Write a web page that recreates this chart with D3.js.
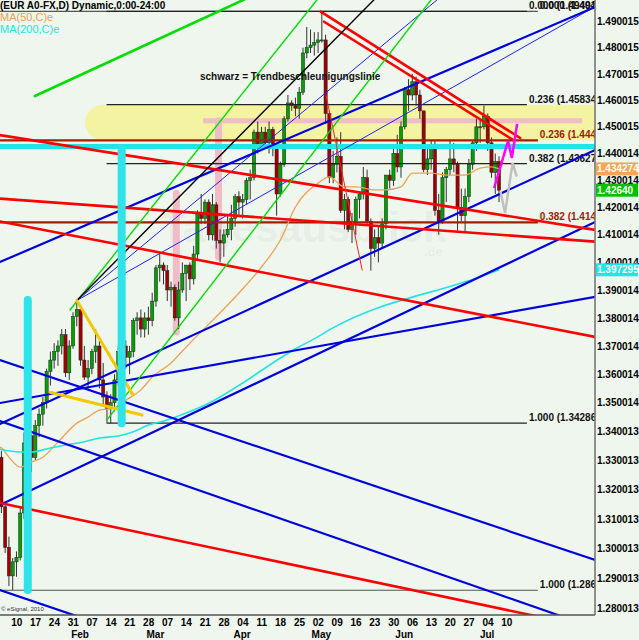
<!DOCTYPE html>
<html>
<head>
<meta charset="utf-8">
<script src="https://cdn.jsdelivr.net/npm/d3@7"></script>
<style>
  body { margin: 0; background: #eef6ee; }
  svg text { font-family: "Liberation Sans", Arial, sans-serif; }
</style>
</head>
<body>
<svg id="chart"></svg>
<script>
// daily bars [open, high, low, close], first bar = 03 Jan
const ohlc = [
  [1.3362,1.3430,1.3302,1.3358],[1.3358,1.3434,1.3290,1.3311],[1.3311,1.3333,1.3120,1.3141],[1.3141,1.3160,1.2985,1.3004],[1.3004,1.3040,1.2874,1.2908],
  [1.2908,1.2968,1.2861,1.2955],[1.2955,1.2990,1.2905,1.2970],[1.2970,1.3136,1.2960,1.3120],[1.3120,1.3397,1.3100,1.3360],[1.3360,1.3440,1.3300,1.3385],
  [1.3385,1.3390,1.3260,1.3310],[1.3310,1.3440,1.3300,1.3420],[1.3420,1.3480,1.3380,1.3460],[1.3460,1.3520,1.3420,1.3500],[1.3500,1.3620,1.3480,1.3610],
  [1.3610,1.3680,1.3560,1.3650],[1.3650,1.3710,1.3620,1.3680],[1.3680,1.3720,1.3630,1.3700],[1.3700,1.3760,1.3670,1.3740],[1.3740,1.3760,1.3590,1.3605],
  [1.3605,1.3720,1.3580,1.3700],[1.3700,1.3820,1.3690,1.3805],[1.3805,1.3862,1.3770,1.3830],[1.3830,1.3840,1.3630,1.3650],[1.3650,1.3700,1.3580,1.3590],
  [1.3590,1.3650,1.3550,1.3620],[1.3620,1.3690,1.3600,1.3680],[1.3680,1.3760,1.3640,1.3700],[1.3700,1.3720,1.3550,1.3580],[1.3580,1.3640,1.3490,1.3520],
  [1.3520,1.3540,1.3430,1.3480],[1.3480,1.3530,1.3429,1.3500],[1.3500,1.3600,1.3470,1.3580],[1.3580,1.3700,1.3560,1.3680],[1.3680,1.3710,1.3580,1.3700],
  [1.3700,1.3720,1.3620,1.3660],[1.3660,1.3700,1.3600,1.3680],[1.3680,1.3800,1.3660,1.3790],[1.3790,1.3820,1.3740,1.3800],[1.3800,1.3830,1.3730,1.3760],
  [1.3760,1.3820,1.3730,1.3800],[1.3800,1.3840,1.3740,1.3790],[1.3790,1.3890,1.3770,1.3860],[1.3860,1.3990,1.3840,1.3980],[1.3980,1.4030,1.3930,1.3990],
  [1.3990,1.4000,1.3920,1.3970],[1.3970,1.3990,1.3860,1.3900],[1.3900,1.3930,1.3840,1.3910],[1.3910,1.3920,1.3790,1.3800],[1.3800,1.3930,1.3760,1.3900],
  [1.3900,1.4000,1.3890,1.3960],[1.3960,1.3990,1.3860,1.3990],[1.3990,1.4000,1.3900,1.3940],[1.3940,1.4060,1.3920,1.4030],[1.4030,1.4190,1.4010,1.4180],
  [1.4180,1.4250,1.4140,1.4160],[1.4160,1.4230,1.4140,1.4220],[1.4220,1.4230,1.4080,1.4100],[1.4100,1.4250,1.4080,1.4210],[1.4210,1.4220,1.4050,1.4080],
  [1.4080,1.4120,1.4000,1.4070],[1.4070,1.4120,1.4020,1.4100],[1.4100,1.4170,1.4090,1.4120],[1.4120,1.4210,1.4080,1.4160],[1.4160,1.4250,1.4130,1.4240],
  [1.4240,1.4260,1.4170,1.4220],[1.4220,1.4250,1.4160,1.4230],[1.4230,1.4310,1.4210,1.4300],[1.4300,1.4340,1.4230,1.4310],[1.4310,1.4490,1.4300,1.4480],
  [1.4480,1.4520,1.4400,1.4420],[1.4420,1.4500,1.4410,1.4480],[1.4480,1.4500,1.4420,1.4440],[1.4440,1.4520,1.4400,1.4490],[1.4490,1.4500,1.4390,1.4430],
  [1.4430,1.4440,1.4170,1.4250],[1.4250,1.4370,1.4240,1.4360],[1.4360,1.4540,1.4350,1.4530],[1.4530,1.4620,1.4520,1.4590],[1.4590,1.4600,1.4560,1.4580],
  [1.4580,1.4610,1.4540,1.4570],[1.4570,1.4650,1.4530,1.4630],[1.4630,1.4800,1.4620,1.4780],[1.4780,1.4880,1.4760,1.4800],[1.4800,1.4870,1.4780,1.4810],
  [1.4810,1.4860,1.4770,1.4820],[1.4820,1.4860,1.4780,1.4830],[1.4830,1.4940,1.4820,1.4830],[1.4830,1.4850,1.4510,1.4550],[1.4550,1.4560,1.4290,1.4310],
  [1.4310,1.4410,1.4290,1.4360],[1.4360,1.4460,1.4330,1.4390],[1.4390,1.4480,1.4180,1.4190],[1.4190,1.4250,1.4120,1.4230],[1.4230,1.4240,1.4110,1.4120],
  [1.4120,1.4180,1.4070,1.4150],[1.4150,1.4240,1.4100,1.4230],[1.4230,1.4260,1.4160,1.4250],[1.4250,1.4350,1.4230,1.4310],[1.4310,1.4340,1.4140,1.4150],
  [1.4150,1.4160,1.3970,1.4050],[1.4050,1.4120,1.4020,1.4090],[1.4090,1.4130,1.4000,1.4070],[1.4070,1.4160,1.4050,1.4140],[1.4140,1.4320,1.4120,1.4320],
  [1.4320,1.4340,1.4270,1.4300],[1.4300,1.4420,1.4280,1.4400],[1.4400,1.4470,1.4330,1.4350],[1.4350,1.4520,1.4310,1.4500],[1.4500,1.4650,1.4490,1.4640],
  [1.4640,1.4680,1.4560,1.4620],[1.4620,1.4700,1.4600,1.4670],[1.4670,1.4690,1.4580,1.4620],[1.4620,1.4640,1.4530,1.4560],[1.4560,1.4560,1.4330,1.4340],
  [1.4340,1.4420,1.4320,1.4380],[1.4380,1.4450,1.4340,1.4420],[1.4420,1.4450,1.4170,1.4190],[1.4190,1.4250,1.4100,1.4150],[1.4150,1.4330,1.4140,1.4310],
  [1.4310,1.4350,1.4220,1.4340],[1.4340,1.4450,1.4320,1.4380],[1.4380,1.4440,1.4330,1.4360],[1.4360,1.4370,1.4110,1.4200],[1.4200,1.4270,1.4150,1.4170],
  [1.4170,1.4270,1.4110,1.4240],[1.4240,1.4380,1.4220,1.4360],[1.4360,1.4450,1.4340,1.4440],[1.4440,1.4530,1.4410,1.4500],[1.4500,1.4530,1.4440,1.4500],
  [1.4500,1.4580,1.4490,1.4540],[1.4540,1.4550,1.4410,1.4440],[1.4440,1.4460,1.4310,1.4330],[1.4330,1.4400,1.4250,1.4370],[1.4370,1.4390,1.4220,1.4264]
];

// moving averages (bar index, value)
const ma50Idx = [0,2,4,7,10,13,17,22,25,28,32,35,39,42,47,51,65,71,76,80,86,89,93,96,101,104,108,111,116,120,125,129,132,134];
const ma50Val = [1.3350,1.3343,1.3311,1.3277,1.3294,1.3311,1.3363,1.3429,1.3450,1.3474,1.3481,1.3509,1.3545,1.3590,1.3640,1.3696,1.3889,1.3983,1.4081,1.4202,1.4290,1.4313,1.4276,1.4276,1.4265,1.4265,1.4276,1.4327,1.4327,1.4320,1.4320,1.4346,1.4350,1.4343];
const ma200Idx = [0,7,10,15,19,24,28,33,37,41,46,51,55,81,86,89,129,134];
const ma200Val = [1.3343,1.3329,1.3329,1.3343,1.3353,1.3364,1.3377,1.3384,1.3399,1.3422,1.3440,1.3464,1.3486,1.3697,1.3733,1.3757,1.3948,1.3973];

// axis labels
const yTicks = [1.490015,1.480015,1.470015,1.460015,1.450015,1.440014,1.430014,1.420014,1.410014,1.400014,1.390014,1.380014,1.370014,1.360014,1.350014,1.340013,1.330013,1.320013,1.310013,1.300013,1.290013,1.280013];
const dayLabels = ['10','17','24','31','07','14','21','28','07','14','21','28','04','11','18','25','02','09','16','23','30','06','13','20','27','04','10'];
const dayIdx = [5,10,15,20,25,30,35,40,45,50,55,60,65,70,75,80,85,90,95,100,105,110,115,120,125,130,135];
const monthLabels = ['Feb','Mar','Apr','May','Jun','Jul'];
const monthIdx = [21,41,64,85,107,129];

// drawn tools: [barIndex1, price1, barIndex2, price2]
const blueThick = [
  [1.6,1.4001,159.5,1.4957],
  [1.6,1.3426,159.5,1.4413],
  [1.6,1.3147,159.5,1.4147],
  [1.6,1.3499,159.5,1.3875],
  [1.6,1.3650,159.5,1.2961],
  [1.6,1.3436,159.5,1.2735],
  [1.6,1.2861,28.2,1.2748]
];
const blueThin = [
  [22,1.3862,159.5,1.4959],
  [22,1.3862,117.5,1.4984]
];
const redThick = [
  [1.6,1.4469,159.5,1.4118],
  [1.6,1.4149,159.5,1.3732],
  [1.6,1.4233,159.5,1.4075],
  [1.6,1.3154,159.5,1.2733],
  [86.7,1.4939,139.6,1.4458],
  [87.6,1.4900,137.7,1.4451]
];
const redThin = [
  [88.1,1.4620,97.7,1.3972]
];
const greenThick = [
  [10.9,1.4616,67.9,1.4996]
];
const greenThin = [
  [20.2,1.3828,87.8,1.5023],
  [30,1.3440,118,1.5023]
];
const blackLines = [
  [22,1.3862,103.4,1.5023]
];
const yellowLines = [
  [22,1.3862,36.9,1.3527],
  [14.9,1.3537,39.3,1.3457]
];
const magentaPath = [[132.7,1.4272],[136.4,1.4447],[137.4,1.4383],[138.8,1.4511]];
const grayPath = [[134.4,1.4258],[135.6,1.4180],[137.6,1.4365],[138.7,1.4314]];

// zones and markers
const yellowZone = [24.2, 170, 1.44492, 1.458343];
const cyanLevel = [-2, 170, 1.4426];
const pinkLevel = [55.5, 156, 1.4523];
const pinkBars = [[59.6,1.4523,1.4019],[48.4,1.4253,1.3750]];
const cyanBars = [[9,1.3864,1.2861],[33.9,1.4421,1.342863]];

// fibonacci retracements: [startIdx, endIdx, low, high]
const fib1 = [-2, 144.3, 1.286013, 1.494014];
const fib2 = [29.9, 141.4, 1.342863, 1.494014];
const fibLevels = [0, 0.236, 0.382, 1];

// last values on the price scale
const lastMa50 = 1.434274, lastPrice = 1.42640, lastMa200 = 1.397295;

var svg = d3.select('#chart').attr('width', 639).attr('height', 640);

var plotW = 595, plotH = 615;

var x = d3.scaleLinear().domain([0, 160]).range([-6.15, -6.15 + 3.77 * 160]);
var y = d3.scaleLog().domain([1.280013, 1.490015]).range([608.3, 21.7]);

svg.append('rect').attr('width', 639).attr('height', 640).attr('fill', '#eef6ee');

svg.append('defs').append('clipPath').attr('id', 'plotclip')
  .append('rect').attr('x', 0).attr('y', 0).attr('width', plotW).attr('height', plotH);

var canvas = svg.append('g').attr('clip-path', 'url(#plotclip)');

//watermark
canvas.append('text').attr('x', 160).attr('y', 242)
  .attr('font-size', 42).attr('font-weight', 'bold').attr('fill', '#000').attr('fill-opacity', 0.05)
  .text('Tagesausblick');
canvas.append('text').attr('x', 424).attr('y', 256)
  .attr('font-size', 13).attr('font-weight', 'bold').attr('fill', '#000').attr('fill-opacity', 0.05)
  .text('.de');

//yellow zone
canvas.append('rect')
  .attr('x', x(yellowZone[0])).attr('width', x(yellowZone[1]) - x(yellowZone[0]))
  .attr('y', y(yellowZone[3])).attr('height', y(yellowZone[2]) - y(yellowZone[3]))
  .attr('rx', (y(yellowZone[2]) - y(yellowZone[3])) / 2)
  .attr('fill', '#f3f3a2');

//pink markers
canvas.append('line')
  .attr('x1', x(pinkLevel[0])).attr('x2', x(pinkLevel[1]))
  .attr('y1', y(pinkLevel[2])).attr('y2', y(pinkLevel[2]))
  .attr('stroke', '#f0bcc8').attr('stroke-width', 5);
canvas.selectAll('.pinkbar').data(pinkBars).join('line')
  .attr('x1', d => x(d[0])).attr('x2', d => x(d[0]))
  .attr('y1', d => y(d[1])).attr('y2', d => y(d[2]))
  .attr('stroke', '#f0bcc8').attr('stroke-width', 7).attr('stroke-linecap', 'round');

//fib lines
function fibLines(f, i) {
  var g = canvas.append('g');
  fibLevels.forEach(function(lv) {
    var p = f[3] - lv * (f[3] - f[2]);
    var mid = (lv > 0 && lv < 1);
    var col = (i === 1 && mid) ? '#a02000' : (i === 1 ? '#555' : '#222');
    g.append('line')
      .attr('x1', x(f[0])).attr('x2', x(f[1]))
      .attr('y1', y(p)).attr('y2', y(p))
      .attr('stroke', col).attr('stroke-width', (i === 1 && mid) ? 2.2 : 1.2);
    g.append('text')
      .attr('x', x(f[1]) + 2).attr('y', y(p) - 2)
      .attr('font-size', 10).attr('font-weight', 'bold')
      .attr('fill', (i === 1 && mid) ? '#a02000' : '#111')
      .text(lv.toFixed(3) + ' (' + p.toFixed(6) + ')');
  });
}

//candles
var bars = canvas.append('g');
bars.selectAll('.wick').data(ohlc).join('line')
  .attr('x1', (d, i) => x(i)).attr('x2', (d, i) => x(i))
  .attr('y1', d => y(d[1])).attr('y2', d => y(d[2]))
  .attr('stroke', '#333').attr('stroke-width', 1);
bars.selectAll('.body').data(ohlc).join('rect')
  .attr('x', (d, i) => x(i) - 1.6).attr('width', 3.2)
  .attr('y', d => y(Math.max(d[0], d[3])))
  .attr('height', d => Math.max(1, Math.abs(y(d[0]) - y(d[3]))))
  .attr('fill', d => d[3] >= d[0] ? '#00a000' : '#a00000')
  .attr('stroke', '#222').attr('stroke-width', 0.5);

fibLines(fib1, 1);
fibLines(fib2, 2);

//moving averages
var maLine = d3.line().x(d => x(d[0])).y(d => y(d[1])).curve(d3.curveMonotoneX);
canvas.append('path').datum(ma50Idx.map((v, k) => [v, ma50Val[k]]))
  .attr('d', maLine).attr('fill', 'none').attr('stroke', '#f0a050').attr('stroke-width', 1.3);
canvas.append('path').datum(ma200Idx.map((v, k) => [v, ma200Val[k]]))
  .attr('d', maLine).attr('fill', 'none').attr('stroke', '#22e4e4').attr('stroke-width', 1.6);

//cyan level
canvas.append('line')
  .attr('x1', x(cyanLevel[0])).attr('x2', x(cyanLevel[1]))
  .attr('y1', y(cyanLevel[2])).attr('y2', y(cyanLevel[2]))
  .attr('stroke', '#22e4e4').attr('stroke-width', 5);

//trend lines
function drawLines(data, color, width) {
  canvas.append('g').selectAll('line').data(data).join('line')
    .attr('x1', d => x(d[0])).attr('y1', d => y(d[1]))
    .attr('x2', d => x(d[2])).attr('y2', d => y(d[3]))
    .attr('stroke', color).attr('stroke-width', width).attr('stroke-linecap', 'round');
}
drawLines(blueThin, '#2020ff', 1);
drawLines(blueThick, '#0000dd', 2.2);
drawLines(redThick, '#ff0000', 2.6);
drawLines(redThin, '#ff2020', 1);
drawLines(greenThin, '#00dd00', 1.4);
drawLines(greenThick, '#00dd00', 2.6);
drawLines(blackLines, '#000', 1.4);
drawLines(yellowLines, '#f2c800', 3);

var pathLine = d3.line().x(d => x(d[0])).y(d => y(d[1]));
canvas.append('path').datum(grayPath).attr('d', pathLine)
  .attr('fill', 'none').attr('stroke', '#c0c0c0').attr('stroke-width', 2.5);
canvas.append('path').datum(magentaPath).attr('d', pathLine)
  .attr('fill', 'none').attr('stroke', '#ff00ff').attr('stroke-width', 2.5);

//cyan bars
canvas.selectAll('.cyanbar').data(cyanBars).join('line')
  .attr('x1', d => x(d[0])).attr('x2', d => x(d[0]))
  .attr('y1', d => y(d[1])).attr('y2', d => y(d[2]))
  .attr('stroke', '#2ee4e8').attr('stroke-width', 8).attr('stroke-linecap', 'round');

//annotation
canvas.append('text').attr('x', 200).attr('y', 80)
  .attr('font-size', 10).attr('font-weight', 'bold').attr('fill', '#111')
  .text('schwarz = Trendbeschleunigungslinie');

//frame
svg.append('line').attr('x1', plotW).attr('x2', plotW).attr('y1', 0).attr('y2', plotH)
  .attr('stroke', '#777').attr('stroke-width', 1.6);
svg.append('line').attr('x1', 0).attr('x2', plotW).attr('y1', plotH).attr('y2', plotH)
  .attr('stroke', '#555').attr('stroke-width', 1.6);

//right price axis
var yAxis = svg.append('g').attr('transform', 'translate(' + plotW + ',0)')
  .call(d3.axisRight(y).tickValues(yTicks).tickFormat(d3.format('.6f')).tickSize(0).tickPadding(2));
yAxis.select('.domain').remove();
yAxis.selectAll('text').attr('font-size', 10).attr('font-weight', 'bold')
  .attr('font-family', '"Liberation Sans", Arial, sans-serif').attr('fill', '#000');

//value boxes
[[lastMa50, '#f2a65a', d3.format('.6f')], [lastPrice, '#00c000', d3.format('.5f')], [lastMa200, '#22e4e4', d3.format('.6f')]]
  .forEach(function(b) {
    svg.append('rect').attr('x', plotW + 1).attr('y', y(b[0]) - 6.5).attr('width', 42).attr('height', 13).attr('fill', b[1]);
    svg.append('text').attr('x', plotW + 2).attr('y', y(b[0])).attr('dy', '0.35em')
      .attr('font-size', 10).attr('font-weight', 'bold').attr('fill', '#fff').text(b[2](b[0]));
  });

//x axis labels
svg.append('g').selectAll('text').data(dayLabels).join('text')
  .attr('x', (d, i) => x(dayIdx[i]) + 4).attr('y', 626)
  .attr('text-anchor', 'middle').attr('font-size', 10).attr('font-weight', 'bold')
  .text(d => d);
svg.append('g').selectAll('text').data(monthLabels).join('text')
  .attr('x', (d, i) => x(monthIdx[i]) + 7).attr('y', 638)
  .attr('text-anchor', 'middle').attr('font-size', 10).attr('font-weight', 'bold')
  .text(d => d);

//title and legend
svg.append('text').attr('x', 0).attr('y', 9).attr('font-size', 10).attr('font-weight', 'bold')
  .text('(EUR A0-FX,D) Dynamic,0:00-24:00');
svg.append('text').attr('x', 0).attr('y', 21).attr('font-size', 11).attr('fill', '#f0a050').text('MA(50,C)e');
svg.append('text').attr('x', 0).attr('y', 33).attr('font-size', 11).attr('fill', '#22e4e4').text('MA(200,C)e');
svg.append('text').attr('x', 1).attr('y', 611).attr('font-size', 6).attr('fill', '#333').text('\u00a9 eSignal, 2010');
</script>
</body>
</html>
